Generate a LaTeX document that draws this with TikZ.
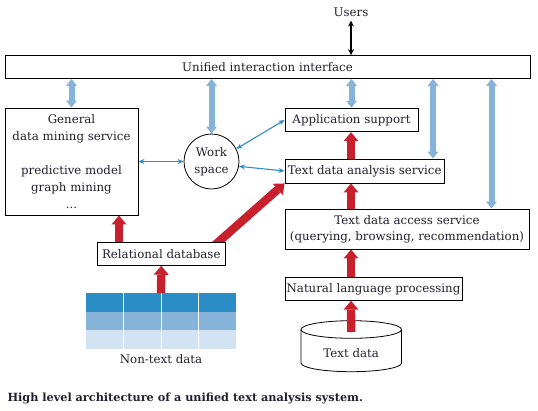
\documentclass[tikz,border=0pt]{standalone}
\usepackage{fontspec}
\setmainfont{DejaVu Serif}
\usetikzlibrary{arrows.meta}
\definecolor{redA}{HTML}{C9202E}
\definecolor{blueL}{HTML}{86B3D9}
\definecolor{blueT}{HTML}{2A8DC8}
\definecolor{tabA}{HTML}{2A8DC6}
\definecolor{tabB}{HTML}{86B3D9}
\definecolor{tabC}{HTML}{D2E3F3}
\definecolor{txt}{HTML}{202030}
\pgfdeclarelayer{bg}
\pgfsetlayers{bg,main}
\begin{document}
\begin{tikzpicture}[x=1pt,y=-1pt,
  font=\fontsize{11.8}{17}\selectfont, text=txt,
  box/.style={draw=black, line width=0.9pt, fill=white, inner sep=0pt},
  bluefat/.style={draw=blueL, line width=6pt,
    {Triangle[width=11pt,length=7pt,line width=0pt]}-{Triangle[width=11pt,length=7pt,line width=0pt]}},
  redfat/.style={draw=redA, line width=8.3pt,
    -{Triangle[width=15pt,length=9pt,line width=0pt]}},
  bluethin/.style={draw=blueT, line width=1.1pt,
    {Stealth[length=6pt,width=5pt]}-{Stealth[length=6pt,width=5pt]}},
  blackarr/.style={draw=black, line width=1.4pt,
    {Stealth[length=6pt,width=6pt]}-{Stealth[length=6pt,width=6pt]}}]
\useasboundingbox (0,0) rectangle (538,410);

% nodes
\node (users) at (351,12.7) {Users};
\node[box, minimum width=525pt, minimum height=23pt] (ui) at (267.5,67) {Unified interaction interface};
\node[box, minimum width=133pt, minimum height=107pt, align=center] (gdm) at (71.5,161.5)
  {General\\data mining service\\[17pt]predictive model\\graph mining\\...};
\node[draw=black, line width=0.8pt, fill=white, circle, minimum size=55pt, inner sep=0pt, align=center,
  font=\fontsize{11.8}{17}\selectfont] (ws) at (211.5,161.5) {Work\\space};
\node[box, minimum width=133pt, minimum height=23.5pt] (app) at (351.5,120) {Application support};
\node[box, minimum width=159.5pt, minimum height=24pt] (tda) at (364.75,171) {Text data analysis service};
\node[box, minimum width=244pt, minimum height=40pt, align=center, font=\fontsize{11.8}{16}\selectfont] (tdacc) at (407,229)
  {Text data access service\\(querying, browsing, recommendation)};
\node[box, minimum width=177pt, minimum height=22.5pt] (nlp) at (373.5,289) {Natural language processing};
\node[box, minimum width=127.4pt, minimum height=22.6pt] (rdb) at (161.3,254) {Relational database};
\node (ntd) at (161,359) {Non-text data};
\node (td) at (351.2,352.7) {Text data};
\node[anchor=west, font=\bfseries\fontsize{11.25}{13}\selectfont] (cap) at (4,398)
  {High level architecture of a unified text analysis system.};

% helper coordinates
\coordinate (col) at (351,0);
\coordinate (c4) at (433,0);
\coordinate (c5) at (491.5,0);
\coordinate (c6) at (119,0);
\coordinate (tabtop) at (161,293);
\coordinate (tdtop) at (351.2,332);
\coordinate (d0) at (207,252);

\begin{pgfonlayer}{bg}
  % table
  \fill[tabA] (85.6,293) rectangle (236.3,311.5);
  \fill[tabB] (85.6,311.5) rectangle (236.3,330.2);
  \fill[tabC] (85.6,330.2) rectangle (236.3,349);
  \foreach \xx in {123.3,161,198.6} \draw[white, line width=1pt] (\xx,293) -- (\xx,349);
  % cylinder
  \draw[line width=0.8pt] (301,329.5) -- (301,363)
     arc[start angle=180, end angle=0, x radius=50.25, y radius=8.7] -- (401.5,329.5);
  \draw[line width=0.8pt] (351.25,329.5) ellipse [x radius=50.25, y radius=8.8];
  % black arrow
  \draw[blackarr] (users.south) -- (users.south |- ui.north);
  % blue fat arrows
  \draw[bluefat] (gdm.north |- ui.south) -- (gdm.north);
  \draw[bluefat] (ws.north |- ui.south) -- (ws.north);
  \draw[bluefat] (app.north |- ui.south) -- (app.north);
  \draw[bluefat] (c4 |- ui.south) -- (c4 |- tda.north);
  \draw[bluefat] (c5 |- ui.south) -- (c5 |- tdacc.north);
  % thin blue arrows
  \draw[bluethin] (gdm.east) -- (ws.west);
  \draw[bluethin] (ws.27) -- (app.west);
  \draw[bluethin] (ws.-10) -- (tda.west);
  % red arrows
  \draw[redfat] (tdtop) -- (col |- nlp.south);
  \draw[redfat] (col |- nlp.north) -- (col |- tdacc.south);
  \draw[redfat] (col |- tdacc.north) -- (col |- tda.south);
  \draw[redfat] (col |- tda.north) -- (col |- app.south);
  \draw[redfat] (tabtop) -- (rdb.south);
  \draw[redfat] (c6 |- rdb.north) -- (c6 |- gdm.south);
  \draw[redfat] (d0) -- (tda.south west);
\end{pgfonlayer}
\end{tikzpicture}
\end{document}
